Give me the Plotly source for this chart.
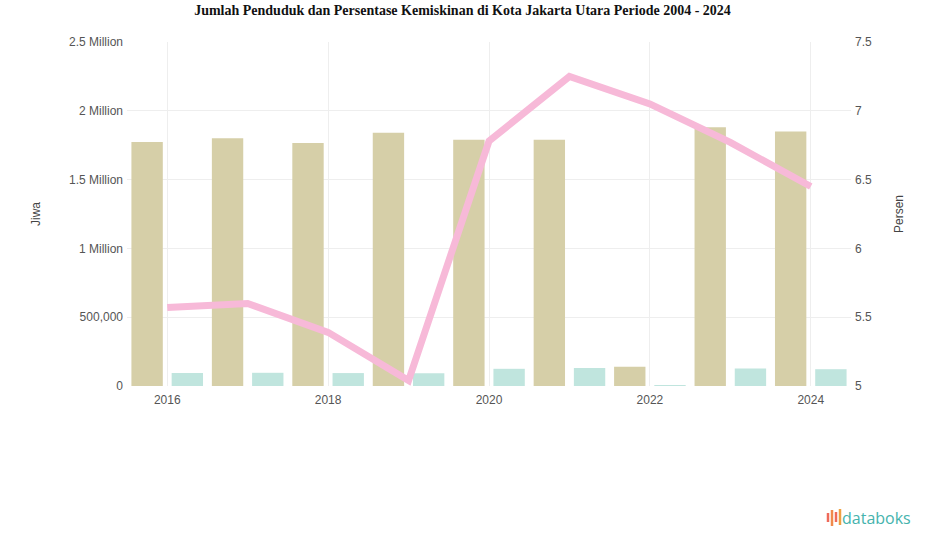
import plotly.graph_objects as go

years = [2016, 2017, 2018, 2019, 2020, 2021, 2022, 2023, 2024]
penduduk = [1773000, 1800000, 1766000, 1840000, 1790000, 1790000, 140000, 1880000, 1850000]
penduduk_miskin = [95000, 96000, 94000, 92000, 125000, 130000, 4000, 128000, 122000]
persen_miskin = [5.57, 5.60, 5.39, 5.04, 6.78, 7.25, 7.05, 6.77, 6.45]

left_tickvals = [0, 500000, 1000000, 1500000, 2000000, 2500000]
left_ticktext = ["0", "500,000", "1 Million", "1.5 Million", "2 Million", "2.5 Million"]
right_tickvals = [5, 5.5, 6, 6.5, 7, 7.5]
right_ticktext = ["5", "5.5", "6", "6.5", "7", "7.5"]

fig = go.Figure()
fig.add_trace(go.Bar(x=years, y=penduduk, name="Jumlah Penduduk",
                     marker=dict(color="#d6cfa8", line=dict(width=0))))
fig.add_trace(go.Bar(x=years, y=penduduk_miskin, name="Jumlah Penduduk Miskin",
                     marker=dict(color="#c0e5de", line=dict(width=0))))
fig.add_trace(go.Scatter(x=years, y=persen_miskin, name="Persentase Kemiskinan",
                         mode="lines", yaxis="y2",
                         line=dict(color="#f7b9d8", width=7)))

tick_font = dict(family="Liberation Sans, Arial, sans-serif", size=12, color="#555555")
title_font = dict(family="Liberation Sans, Arial, sans-serif", size=12, color="#444444")

fig.update_layout(
    width=925, height=547,
    paper_bgcolor="white", plot_bgcolor="white",
    margin=dict(l=127, r=74, t=42, b=161),
    showlegend=False,
    barmode="group", bargap=0.0, bargroupgap=0.22,
    title=dict(text="<b>Jumlah Penduduk dan Persentase Kemiskinan di Kota Jakarta Utara Periode 2004 - 2024</b>",
               x=0.5, xanchor="center", y=0.982, yanchor="middle",
               font=dict(family="Liberation Serif, Times New Roman, serif", size=14, color="#111111")),
    xaxis=dict(range=[2015.5, 2024.5], tickmode="linear", tick0=2016, dtick=2,
               showgrid=True, gridcolor="#eeeeee", zeroline=False,
               showline=False, ticks="", tickfont=tick_font, ticklabelstandoff=5),
    yaxis=dict(range=[0, 2500000], tickvals=left_tickvals, ticktext=left_ticktext,
               showgrid=True, gridcolor="#eeeeee", zeroline=False, showline=False,
               tickfont=tick_font, ticklabelstandoff=3,
               title=dict(text="Jiwa", font=title_font, standoff=25)),
    yaxis2=dict(range=[5, 7.5], tickvals=right_tickvals, ticktext=right_ticktext,
                overlaying="y", side="right", showgrid=False, zeroline=False, showline=False,
                tickfont=tick_font, ticklabelstandoff=3,
                title=dict(text="Persen", font=title_font, standoff=23)),
)

# databoks logo (text + small icon bars)
fig.add_annotation(text="databoks", xref="paper", yref="paper",
                   x=1.0 + 62/724, y=-(518-386)/344, xanchor="right", yanchor="middle",
                   showarrow=False,
                   font=dict(family="Open Sans, Liberation Sans, sans-serif", size=16, color="#45b3ad"))
icon = [(828, 513, 522, "#ef6a5a"), (832, 510, 526, "#f08a4b"), (836, 512, 522, "#ef6a5a"), (840, 509, 525, "#f0a040")]
for xp, y0, y1, c in icon:
    fig.add_shape(type="line", xref="paper", yref="paper",
                  x0=(xp-127)/724, x1=(xp-127)/724,
                  y0=-(y1-386)/344, y1=-(y0-386)/344,
                  line=dict(color=c, width=2.5))

fig.write_html("out.html", config={"displayModeBar": False},
               post_script="document.body.style.margin='0px';")
